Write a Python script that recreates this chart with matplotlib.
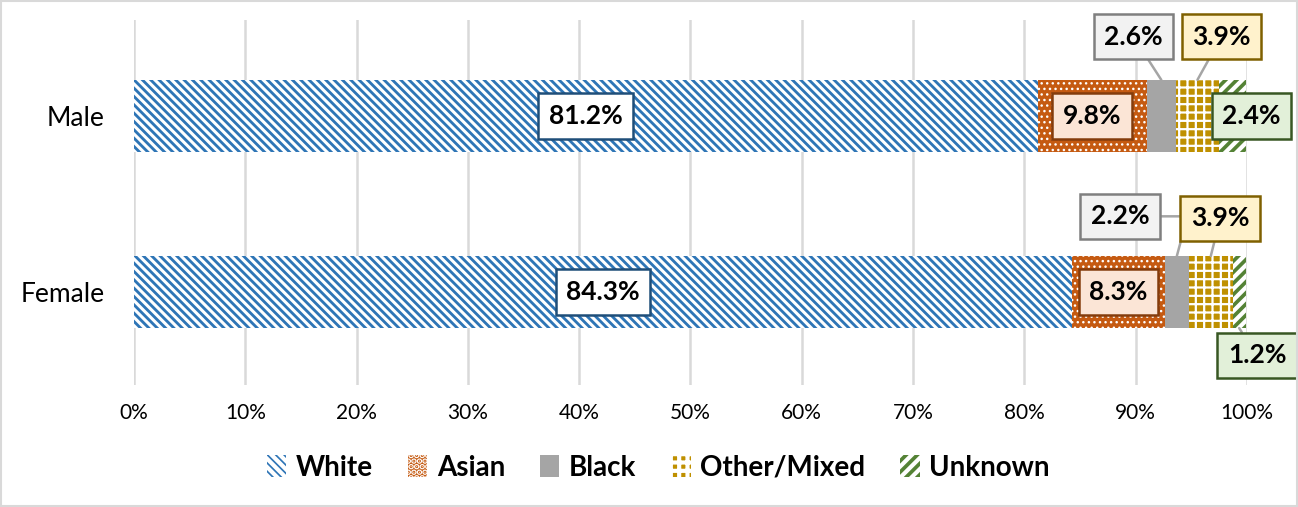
import matplotlib
matplotlib.use("Agg")
import matplotlib.pyplot as plt
from matplotlib.patches import Rectangle

# ---- data -------------------------------------------------------------
groups = ["Female", "Male"]
series = ["White", "Asian", "Black", "Other/Mixed", "Unknown"]
white = [84.3, 81.2]
asian = [8.3, 9.8]
black = [2.2, 2.6]
other = [3.9, 3.9]
unknown = [1.2, 2.4]
values = [white, asian, black, other, unknown]

# ---- styles -----------------------------------------------------------
colors = ["#2E75B6", "#C55A11", "#A5A5A5", "#BF9000", "#548235"]
hatches = ["\\\\\\\\", "...", None, "++", "///"]
hatch_lw = [2.2, 1.0, 1.0, 1.6, 3.0]
box_face = ["#FFFFFF", "#FBE5D6", "#F2F2F2", "#FFF2CC", "#E2F0D9"]
box_edge = ["#1F4E79", "#843C0C", "#7F7F7F", "#7F6000", "#385723"]

# label placement per (series, group) in data units; last item = leader line style
label_pos = {
    (2, 1): (89.8, 1.45, "arc3"), (3, 1): (97.7, 1.45, "arc3"),
    (4, 1): (100.4, 1.0, None),
    (2, 0): (88.6, 0.43, "angle,angleA=0,angleB=75,rad=0"),
    (3, 0): (97.6, 0.42, "arc3"), (4, 0): (100.9, -0.36, "arc3"),
}

plt.rcParams["font.family"] = ["Lato", "DejaVu Sans"]

fig = plt.figure(figsize=(12.98, 5.07), dpi=100)
ax = fig.add_axes([0.1032, 0.2406, 0.8575, 0.72])

ypos = list(range(len(groups)))
left = [0.0] * len(groups)
for i, (name, vals) in enumerate(zip(series, values)):
    plt.rcParams["hatch.linewidth"] = hatch_lw[i]
    bars = ax.barh(ypos, vals, left=left, height=0.41, color=colors[i],
                   hatch=hatches[i], edgecolor="white" if hatches[i] else colors[i],
                   linewidth=0, label=name, zorder=3)
    for b in bars:
        if hasattr(b, "set_hatch_linewidth"):
            b.set_hatch_linewidth(hatch_lw[i])
    for j, v in enumerate(vals):
        cx = left[j] + v / 2
        bbox = dict(boxstyle="square,pad=0.4", fc=box_face[i], ec=box_edge[i], lw=1.8)
        txt = f"{v:.1f}%"
        kw = dict(ha="center", va="center", fontsize=19, fontweight="bold",
                  bbox=bbox, zorder=5)
        if (i, j) in label_pos:
            tx, ty, conn = label_pos[(i, j)]
            if conn:
                relpos = (1.0, 0.5) if conn.startswith("angle") else (0.5, 0.5)
                ax.annotate(txt, xy=(cx, j + (0.205 if ty > j else -0.205)),
                            xytext=(tx, ty),
                            arrowprops=dict(arrowstyle="-", color="#A5A5A5", lw=1.8,
                                            shrinkA=0, shrinkB=0, relpos=relpos,
                                            connectionstyle=conn), **kw)
            else:
                ax.text(tx, ty, txt, **kw)
        else:
            ax.text(cx, j, txt, **kw)
    left = [l + v for l, v in zip(left, vals)]

ax.set_xlim(0, 100)
ax.set_ylim(-0.528, 1.545)
ax.set_xticks(range(0, 101, 10))
ax.set_xticklabels([f"{t}%" for t in range(0, 101, 10)], fontsize=15)
ax.set_yticks(ypos)
ax.set_yticklabels(groups, fontsize=19)
ax.tick_params(axis="y", length=0, pad=21)
ax.tick_params(axis="x", length=0, pad=13)
ax.xaxis.grid(True, color="#D9D9D9", lw=1.8, zorder=0)
for s in ax.spines.values():
    s.set_visible(False)

leg = ax.legend(loc="center", bbox_to_anchor=(0.471, -0.227), ncol=5, frameon=False,
                prop={"size": 20, "weight": "bold"}, handlelength=0.7, handleheight=0.85,
                handletextpad=0.35, columnspacing=1.25)

fig.add_artist(Rectangle((0.001, 0.001), 0.998, 0.997, transform=fig.transFigure,
                         fill=False, ec="#D9D9D9", lw=1.5))

fig.savefig("out.png", dpi=100)
